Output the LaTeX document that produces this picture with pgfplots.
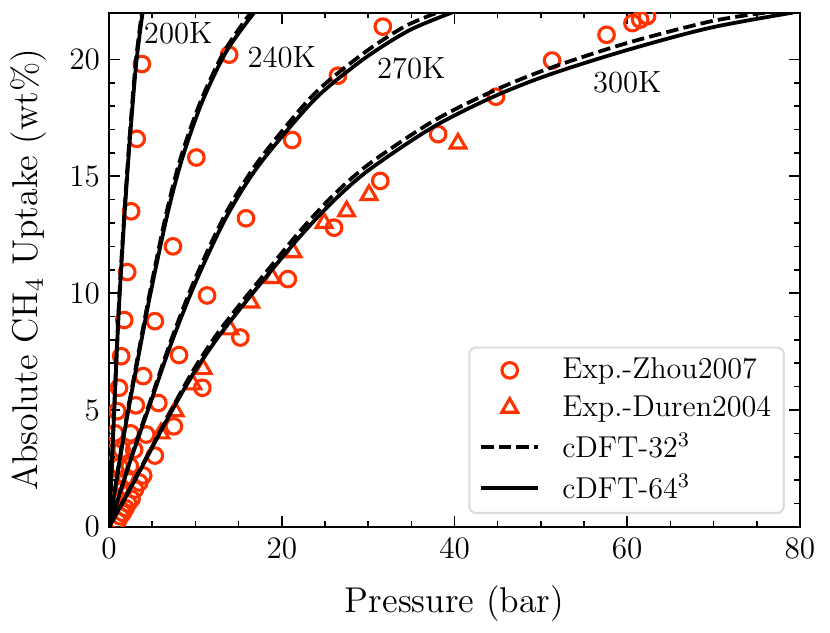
\documentclass[border=0pt]{standalone}
\usepackage{pgfplots}
\pgfplotsset{compat=1.18}
\definecolor{expred}{HTML}{FF3300}
\definecolor{legframe}{HTML}{DCDCDC}

\begin{document}
\begin{tikzpicture}
\path[use as bounding box] (-42pt,-40.8pt) rectangle (277.55pt,202.85pt);
\begin{axis}[
  at={(0,0)}, anchor=south west,
  scale only axis,
  width=266pt, height=198pt,
  xmin=0, xmax=80, ymin=0, ymax=22,
  xtick={0,20,40,60,80},
  ytick={0,5,10,15,20},
  minor x tick num=3,
  minor y tick num=4,
  tick align=inside,
  xtick pos=both, ytick pos=both,
  major tick length=4.2pt,
  minor tick length=2.2pt,
  tick style={black, line width=0.6pt},
  axis line style={line width=0.75pt},
  ticklabel style={font=\fontsize{11.8}{14}\selectfont},
  xticklabel style={yshift=-0.8pt},
  xlabel={Pressure (bar)},
  ylabel={Absolute CH$_4$ Uptake (wt\%)},
  label style={font=\fontsize{13.8}{16}\selectfont},
  xlabel style={yshift=-3.5pt},
  ylabel style={yshift=2pt},
  clip=true,
  clip marker paths=true,
  legend cell align=left,
  legend style={
    at={(0.978,0.025)}, anchor=south east,
    font=\fontsize{11.6}{14}\selectfont,
    draw=legframe, line width=0.8pt, rounded corners=2.5pt,
    inner xsep=2.8pt, inner ysep=2pt,
    row sep=0.9pt,
  },
  legend image code/.code={
    \path (-1pt,0pt) (28.5pt,0pt);
    \draw[#1] (0pt,0pt) -- (22pt,0pt);
  },
  circ/.style={only marks, mark=o, mark size=3pt,
    mark options={draw=expred, line width=1.2pt},
    legend image code/.code={
      \path (-1pt,0pt) (28.5pt,0pt);
      \draw[mark repeat=2, mark phase=2, ##1] plot coordinates {(0pt,0pt) (11pt,0pt) (22pt,0pt)};
    }},
  tri/.style={only marks, mark=triangle, mark size=3.5pt,
    mark options={draw=expred, line width=1.2pt, miter limit=4},
    legend image code/.code={
      \path (-1pt,0pt) (28.5pt,0pt);
      \draw[mark repeat=2, mark phase=2, ##1] plot coordinates {(0pt,0pt) (11pt,0pt) (22pt,0pt)};
    }},
  dsh/.style={black, line width=1.45pt, dash pattern=on 4.8pt off 2pt, smooth, tension=0.5},
  sol/.style={black, line width=1.45pt, smooth, tension=0.5},
]

% Zhou 2007 circles, all temperatures
\addplot[circ] coordinates {
  (3.8,19.8) (3.2,16.6) (2.55,13.5) (2.1,10.9) (1.75,8.85) (1.4,7.3) (1.15,5.95) (0.95,4.95) (0.7,4.0)
  (0.55,3.2)
  (13.9,20.2) (10.1,15.8) (7.4,12.0) (5.3,8.8) (3.95,6.45) (3.1,5.2) (2.5,4.0)
  (1.45,3.3) (1.2,2.6) (1.0,1.9) (0.8,1.3)
  (31.7,21.4) (26.5,19.3) (21.2,16.55) (15.85,13.2) (11.35,9.9) (8.1,7.35) (5.7,5.3) (4.3,3.95)
  (2.9,3.3) (2.4,2.6) (2.0,2.1) (1.6,1.6)
  (62.3,21.85) (61.5,21.7) (60.6,21.55) (57.6,21.05) (51.3,19.95) (44.8,18.4) (38.1,16.8) (31.4,14.8)
  (26.05,12.8) (20.7,10.6) (15.2,8.1) (10.8,5.95) (7.5,4.3) (5.3,3.05) (3.95,2.2) (3.5,1.9) (3.0,1.6)
  (2.6,1.2) (2.2,1.0) (1.9,0.8) (1.6,0.6) (1.3,0.45) (1.0,0.25)
};
\addlegendentry{Exp.-Zhou2007}

% Duren 2004 triangles
\addplot[tri] coordinates {
  (40.4,16.4) (30.1,14.2) (27.5,13.5) (24.9,13.0) (21.3,11.75) (18.9,10.65) (16.4,9.6) (14.0,8.45)
  (10.9,6.75) (9.7,6.1) (7.65,4.95) (6.0,4.0)
};
\addlegendentry{Exp.-Duren2004}

% cDFT 32^3, 300 K
\addplot[dsh] coordinates {
  (0,0) (2,1.36) (4,2.75) (6,4.15) (8,5.55) (10,6.85) (12.5,8.25) (15,9.45) (18.3,10.95) (22.1,12.65)
  (26,14.2) (30.2,15.55) (37.5,17.35) (44.5,18.65) (51,19.62) (60,20.7) (69.6,21.62) (76,22)
};
\addlegendentry{cDFT-32$^3$}
% cDFT 64^3, 300 K
\addplot[sol] coordinates {
  (0,0) (2,1.33) (4,2.7) (6,4.1) (8,5.45) (10,6.7) (12.5,8.05) (15,9.25) (18.3,10.75) (22.1,12.42)
  (26,13.95) (30.2,15.3) (37.5,17.1) (44.5,18.4) (51,19.35) (60,20.4) (69.6,21.35) (79.2,22)
};
\addlegendentry{cDFT-64$^3$}

% 200 K
\addplot[dsh, forget plot] coordinates {
  (0,0) (0.29,2.5) (0.58,5) (0.94,8) (1.25,10.3) (1.76,13.4) (2.35,16.55) (3.08,19.85) (3.8,22)
};
\addplot[sol, forget plot] coordinates {
  (0,0) (0.3,2.5) (0.6,5) (0.96,8) (1.28,10.3) (1.8,13.4) (2.4,16.55) (3.15,19.85) (3.88,22)
};
% 240 K
\addplot[dsh, forget plot] coordinates {
  (0,0) (1.75,4.1) (3.68,8) (4.78,10.14) (6.62,13.4) (8.3,15.8) (10.6,18.2) (13.35,20.35) (16.4,22)
};
\addplot[sol, forget plot] coordinates {
  (0,0) (1.8,4.1) (3.76,8) (4.88,10.14) (6.77,13.4) (8.5,15.8) (10.8,18.2) (13.6,20.35) (16.8,22)
};
% 270 K
\addplot[dsh, forget plot] coordinates {
  (0,0) (2.4,2.8) (4.6,5.2) (7.2,8.0) (10,10.65) (13.5,13.4) (17.1,15.55) (22.1,17.85) (25,18.95)
  (29.8,20.35) (34.2,21.4) (38,22)
};
\addplot[sol, forget plot] coordinates {
  (0,0) (2.4,2.75) (4.6,5.1) (7.2,7.85) (10,10.45) (13.5,13.2) (17.1,15.35) (22.1,17.6) (25,18.7)
  (29.8,20.1) (34.8,21.25) (39.7,22)
};

\node[font=\fontsize{11.8}{14}\selectfont] at (axis cs:8,21.1) {200K};
\node[font=\fontsize{11.8}{14}\selectfont] at (axis cs:20,20.1) {240K};
\node[font=\fontsize{11.8}{14}\selectfont] at (axis cs:35,19.6) {270K};
\node[font=\fontsize{11.8}{14}\selectfont] at (axis cs:60,19) {300K};
\end{axis}
\end{tikzpicture}
\end{document}
